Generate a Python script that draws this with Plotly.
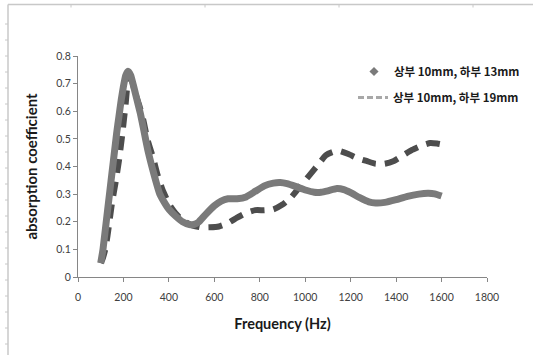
import plotly.graph_objects as go

# Series 1: 상부 10mm, 하부 13mm
freq_13 = [100, 110, 120, 130, 140, 150, 160, 170, 180, 190, 200, 210, 220, 232, 245, 260, 275, 290, 307,
           325, 345, 360, 380, 400, 430, 460, 490, 510, 530, 560, 600, 630, 660, 700, 740, 780, 820, 860,
           890, 920, 960, 1000, 1040, 1070, 1100, 1140, 1170, 1200, 1240, 1280, 1310, 1350, 1400, 1450,
           1500, 1540, 1570, 1600]
abs_13 = [0.05, 0.10, 0.17, 0.24, 0.31, 0.38, 0.45, 0.52, 0.58, 0.64, 0.69, 0.73, 0.745, 0.73, 0.69, 0.64,
          0.59, 0.53, 0.46, 0.40, 0.34, 0.30, 0.27, 0.245, 0.22, 0.20, 0.19, 0.19, 0.198, 0.225, 0.258,
          0.275, 0.283, 0.283, 0.29, 0.31, 0.33, 0.34, 0.342, 0.338, 0.327, 0.315, 0.307, 0.307, 0.312,
          0.32, 0.316, 0.305, 0.287, 0.272, 0.268, 0.27, 0.28, 0.292, 0.30, 0.303, 0.301, 0.293]

# Series 2: 상부 10mm, 하부 19mm
freq_19 = [100, 110, 120, 130, 140, 150, 165, 180, 194, 209, 222, 235, 250, 270, 287, 305, 331, 350, 370,
           400, 430, 460, 500, 540, 580, 620, 660, 700, 740, 780, 820, 860, 900, 940, 980, 1020, 1060,
           1090, 1120, 1150, 1190, 1230, 1270, 1310, 1350, 1390, 1430, 1470, 1510, 1550, 1580, 1600]
abs_19 = [0.05, 0.07, 0.10, 0.15, 0.21, 0.27, 0.34, 0.42, 0.51, 0.62, 0.715, 0.715, 0.67, 0.62, 0.57, 0.50,
          0.43, 0.37, 0.32, 0.265, 0.23, 0.205, 0.188, 0.18, 0.18, 0.183, 0.195, 0.215, 0.232, 0.242,
          0.242, 0.245, 0.262, 0.29, 0.33, 0.37, 0.41, 0.44, 0.452, 0.456, 0.445, 0.43, 0.42, 0.41, 0.41,
          0.42, 0.44, 0.46, 0.475, 0.485, 0.483, 0.48]

label_13 = "상부 10mm, 하부 13mm"
label_19 = "상부 10mm, 하부 19mm"
x_ticks = [0, 200, 400, 600, 800, 1000, 1200, 1400, 1600, 1800]
y_ticks = [0, 0.1, 0.2, 0.3, 0.4, 0.5, 0.6, 0.7, 0.8]
y_ticktext = ["0", "0.1", "0.2", "0.3", "0.4", "0.5", "0.6", "0.7", "0.8"]

W, H = 533, 355
L, R, T, B = 78, 46, 56, 78
PW, PH = W - L - R, H - T - B

def px(x):
    return (x - L) / PW

def py(y):
    return (H - B - y) / PH

fig = go.Figure()

fig.add_trace(go.Scatter(
    x=freq_19, y=abs_19, mode="lines",
    line=dict(color="#4d4d4d", width=6, dash="14px,9px", shape="spline", smoothing=0.4),
    showlegend=False))
fig.add_trace(go.Scatter(
    x=freq_13, y=abs_13, mode="lines",
    line=dict(color="#7a7a7a", width=7, shape="spline", smoothing=0.4),
    showlegend=False))

# legend entries
fig.add_trace(go.Scatter(x=[None], y=[None], mode="markers", name="<b>" + label_13 + "</b>",
                         marker=dict(symbol="diamond", color="#7a7a7a", size=7), legend="legend"))
fig.add_trace(go.Scatter(x=[None], y=[None], mode="lines", name="<b>" + label_19 + "</b>",
                         line=dict(color="#a8a8a8", width=3, dash="6px,3px"), legend="legend2"))

# outer frame with ruler ticks
shapes = []
frame = dict(type="line", xref="paper", yref="paper", line=dict(color="#c8c8c8", width=1.5))
shapes.append(dict(frame, x0=px(8), x1=px(533), y0=py(4.5), y1=py(4.5)))
shapes.append(dict(frame, x0=px(8), x1=px(8), y0=py(4.5), y1=py(355)))
for xx in [71, 205, 339, 473]:
    shapes.append(dict(frame, x0=px(xx), x1=px(xx), y0=py(4.5), y1=py(7.5), line=dict(color="#c8c8c8", width=1)))
for yy in range(24, 355, 16):
    shapes.append(dict(frame, x0=px(5), x1=px(8), y0=py(yy), y1=py(yy), line=dict(color="#c8c8c8", width=1)))

tick_font = dict(family="Lato, Open Sans, sans-serif", size=10.5, color="#404040")
leg_font = dict(family="Noto Sans CJK KR", size=11.5, color="#1a1a1a")

fig.update_layout(
    width=W, height=H,
    margin=dict(l=L, r=R, t=T, b=B, autoexpand=False),
    paper_bgcolor="white", plot_bgcolor="white",
    shapes=shapes,
    xaxis=dict(range=[0, 1800], tickvals=x_ticks, showgrid=False, zeroline=False, automargin=False,
               showline=True, linecolor="#868686", linewidth=1, ticks="outside", ticklen=4,
               tickcolor="#868686", tickfont=tick_font, ticklabelstandoff=6,
               title=dict(text="<b>Frequency (Hz)</b>", font=dict(family="Lato, sans-serif", size=14.5, color="#1a1a1a"), standoff=17)),
    yaxis=dict(range=[0, 0.8], tickvals=y_ticks, ticktext=y_ticktext, showgrid=False, zeroline=False,
               automargin=False,
               showline=True, linecolor="#868686", linewidth=1, ticks="outside", ticklen=4,
               tickcolor="#868686", tickfont=tick_font,
               title=dict(text="<b>absorption coefficient</b>", font=dict(family="Lato, sans-serif", size=15, color="#1a1a1a"), standoff=14)),
    legend=dict(x=px(354), y=py(57), xanchor="left", yanchor="top", bgcolor="rgba(0,0,0,0)",
                font=leg_font, itemwidth=30),
    legend2=dict(x=px(353), y=py(83), xanchor="left", yanchor="top", bgcolor="rgba(0,0,0,0)",
                 font=leg_font, itemwidth=30),
)

fig.write_html("out.html", config={"displayModeBar": False},
               post_script="document.body.style.margin='0';document.body.style.padding='0';")
